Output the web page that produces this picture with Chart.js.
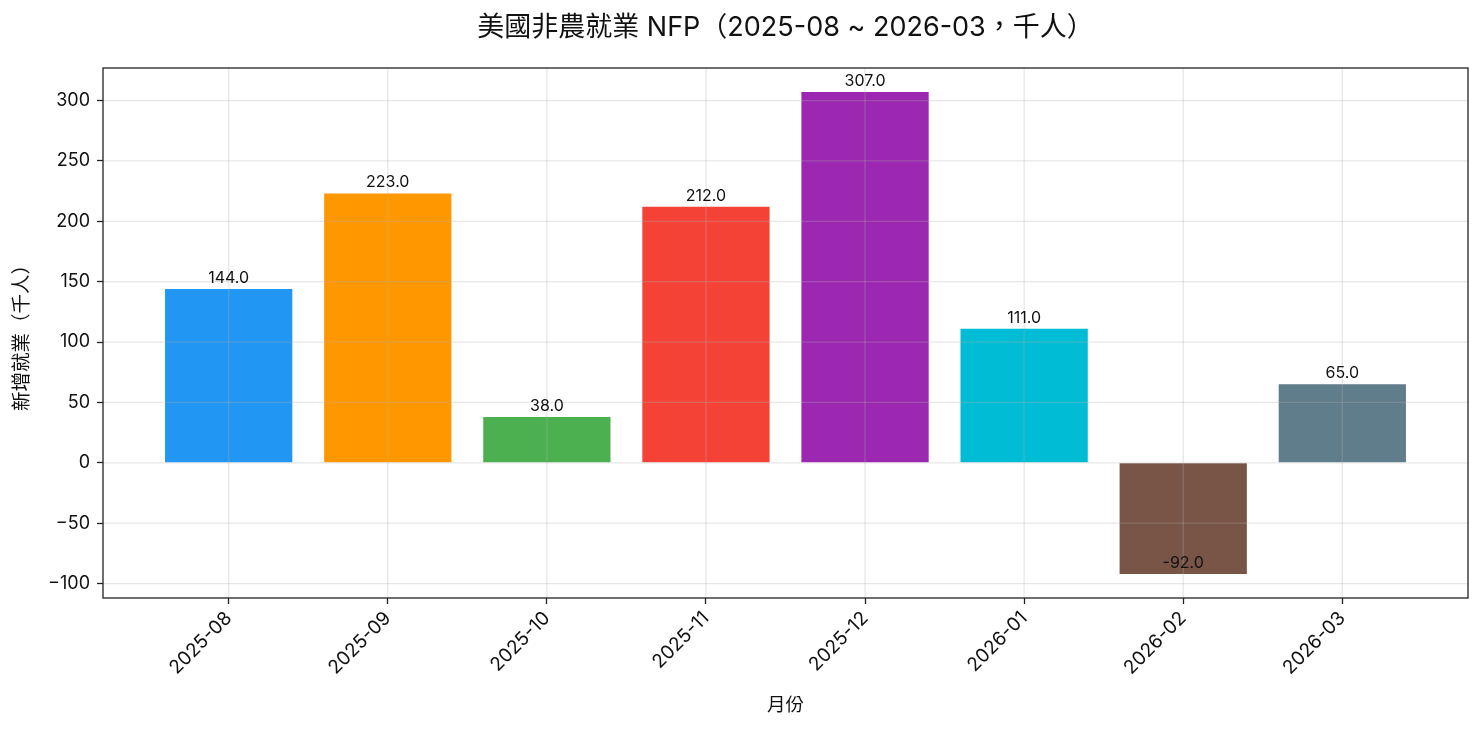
<!DOCTYPE html>
<html>
<head>
<meta charset="utf-8">
<script src="https://cdn.jsdelivr.net/npm/chart.js@4"></script>
<style>
  html, body { margin: 0; padding: 0; background: #fff; }
  #wrap { width: 1482px; height: 731px; position: relative; }
</style>
</head>
<body>
<div id="wrap"><canvas id="nfpChart"></canvas></div>
<script>
// data
const months = ['2025-08', '2025-09', '2025-10', '2025-11', '2025-12', '2026-01', '2026-02', '2026-03'];
const nfpValues = [144, 223, 38, 212, 307, 111, -92, 65];
const barColors = ['#2196F3', '#FF9800', '#4CAF50', '#F44336', '#9C27B0', '#00BCD4', '#795548', '#607D8B'];
const yTicks = [-100, -50, 0, 50, 100, 150, 200, 250, 300];

const FONT = "Inter, 'Noto Sans CJK TC', sans-serif";

// matplotlib-ish 5% margins around the data
const xMin = -0.4 - 0.05 * (months.length - 1 + 0.8);
const xMax = months.length - 1 + 0.4 + 0.05 * (months.length - 1 + 0.8);
const dataSpan = Math.max(...nfpValues) - Math.min(0, ...nfpValues);
const yMin = Math.min(0, ...nfpValues) - 0.05 * dataSpan;
const yMax = Math.max(...nfpValues) + 0.05 * dataSpan;

const fmtTick = v => (v < 0 ? '\u2212' + Math.abs(v) : String(v));

// grid lines drawn over the bars, then value labels and the frame
const overlayPlugin = {
    id: 'overlay',
    afterDatasetsDraw(chart) {
        const { ctx, chartArea: a, scales: { x, y } } = chart;
        ctx.save();
        ctx.strokeStyle = 'rgba(176,176,176,0.3)';
        ctx.lineWidth = 1.3;
        x.ticks.forEach(t => {
            const px = x.getPixelForValue(t.value);
            ctx.beginPath(); ctx.moveTo(px, a.top); ctx.lineTo(px, a.bottom); ctx.stroke();
        });
        y.ticks.forEach(t => {
            const py = y.getPixelForValue(t.value);
            ctx.beginPath(); ctx.moveTo(a.left, py); ctx.lineTo(a.right, py); ctx.stroke();
        });

        // value labels
        ctx.fillStyle = '#111';
        ctx.font = '16px ' + FONT;
        ctx.textAlign = 'center';
        ctx.textBaseline = 'bottom';
        const meta = chart.getDatasetMeta(0);
        meta.data.forEach((bar, i) => {
            const v = nfpValues[i];
            ctx.fillText(v.toFixed(1), bar.x, y.getPixelForValue(v) - 3);
        });

        // frame
        ctx.strokeStyle = '#222';
        ctx.lineWidth = 1.3;
        ctx.strokeRect(a.left, a.top, a.right - a.left, a.bottom - a.top);
        ctx.restore();
    }
};

new Chart(document.getElementById('nfpChart'), {
    type: 'bar',
    data: {
        datasets: [{
            data: nfpValues.map((v, i) => ({ x: i, y: v })),
            backgroundColor: barColors,
            borderWidth: 0,
            categoryPercentage: 1,
            barPercentage: 0.8
        }]
    },
    options: {
        responsive: true,
        maintainAspectRatio: false,
        animation: false,
        layout: { padding: { left: 0, right: 14, top: 0, bottom: 0 } },
        plugins: {
            legend: { display: false },
            tooltip: { enabled: false },
            title: {
                display: true,
                fullSize: false,
                text: '美國非農就業 NFP（2025-08 ~ 2026-03，千人）',
                color: '#111',
                font: { family: FONT, size: 27, weight: 'normal' },
                padding: { top: 11.8, bottom: 23.8 }
            }
        },
        scales: {
            x: {
                type: 'linear',
                offset: false,
                min: xMin,
                max: xMax,
                afterBuildTicks: s => { s.ticks = months.map((m, i) => ({ value: i })); },
                afterFit: s => { s.height = 133; },
                grid: { display: true, offset: false, color: 'transparent', drawTicks: true, tickLength: 6, tickColor: '#222', tickWidth: 1.3 },
                border: { display: false },
                ticks: {
                    color: '#111',
                    font: { family: FONT, size: 19 },
                    minRotation: 45,
                    maxRotation: 45,
                    padding: 3,
                    autoSkip: false,
                    callback: v => months[v]
                },
                title: {
                    display: true,
                    text: '月份',
                    color: '#111',
                    font: { family: FONT, size: 18.5 },
                    padding: { top: 4, bottom: 14 }
                }
            },
            y: {
                min: yMin,
                max: yMax,
                afterBuildTicks: s => { s.ticks = yTicks.map(v => ({ value: v })); },
                afterFit: s => { s.width = 103; },
                grid: { display: true, color: 'transparent', drawTicks: true, tickLength: 6, tickColor: '#222', tickWidth: 1.3 },
                border: { display: false },
                ticks: {
                    color: '#111',
                    font: { family: FONT, size: 18 },
                    padding: 7,
                    callback: v => fmtTick(v)
                },
                title: {
                    display: true,
                    text: '新增就業（千人）',
                    color: '#111',
                    font: { family: FONT, size: 19.5 },
                    padding: { top: 10, bottom: 4 }
                }
            }
        }
    },
    plugins: [overlayPlugin]
});
</script>
</body>
</html>
